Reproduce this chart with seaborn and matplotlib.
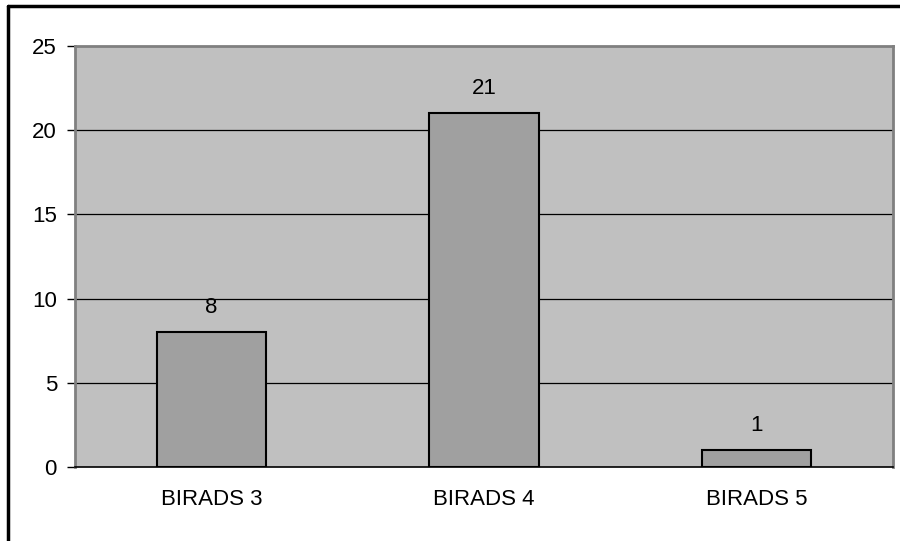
import matplotlib
matplotlib.use("Agg")
import matplotlib.pyplot as plt
import seaborn as sns
import pandas as pd
from matplotlib.lines import Line2D

categories = ["BIRADS 3", "BIRADS 4", "BIRADS 5"]
values = [8, 21, 1]
yticks = [0, 5, 10, 15, 20, 25]

sns.set_style("white")
plt.rcParams['font.family'] = ['Liberation Sans', 'DejaVu Sans']
plt.rcParams['text.color'] = 'black'
plt.rcParams['xtick.color'] = 'black'
plt.rcParams['ytick.color'] = 'black'
plt.rcParams['xtick.labelcolor'] = 'black'
plt.rcParams['ytick.labelcolor'] = 'black'

fig = plt.figure(figsize=(9, 5.41), dpi=100)
ax = fig.add_axes([75/900, 1-467/541, (893-75)/900, (467-46)/541])
ax.set_facecolor("#C0C0C0")

df = pd.DataFrame({"cat": categories, "val": values})
sns.barplot(data=df, x="cat", y="val", ax=ax, color="#A0A0A0", width=0.4,
            edgecolor="black", linewidth=1.5, saturation=1, zorder=3)

# shift bars to mid-category positions
for p in ax.patches:
    p.set_x(p.get_x() + 0.5)

ax.set_xlim(0, 3)
ax.set_ylim(0, 25)
ax.set_yticks(yticks)
ax.set_yticklabels([str(t) for t in yticks], fontsize=16, color="black")
ax.set_xticks([0.5, 1.5, 2.5])
ax.set_xticklabels(categories, fontsize=16, color="black")
ax.set_xticks([0, 1, 2, 3], minor=True)
ax.tick_params(axis='x', which='major', length=0, pad=16)
ax.tick_params(axis='x', which='minor', length=6, width=1, color='black', direction='out')
ax.tick_params(axis='y', length=6, width=1, color='black', direction='out', left=True, pad=7)
ax.set_xlabel("")
ax.set_ylabel("")

for y in yticks[1:-1]:
    ax.axhline(y, color="black", linewidth=0.9, zorder=1)

for s in ["top", "right", "left"]:
    ax.spines[s].set_color("#808080")
    ax.spines[s].set_linewidth(2)
ax.spines["bottom"].set_color("black")
ax.spines["bottom"].set_linewidth(1.2)

for i, v in enumerate(values):
    ax.annotate(str(v), (i + 0.5, v), xytext=(0, 10), textcoords="offset points",
                ha="center", va="bottom", fontsize=16, color="black")

# figure frame (top and left edges visible)
fig.add_artist(Line2D([7.5/900, 1.0], [1 - 6/541, 1 - 6/541],
                      transform=fig.transFigure, color="black", linewidth=2.5))
fig.add_artist(Line2D([7.5/900, 7.5/900], [0.0, 1 - 6/541],
                      transform=fig.transFigure, color="black", linewidth=2.5))

fig.savefig("out.png", dpi=100)
